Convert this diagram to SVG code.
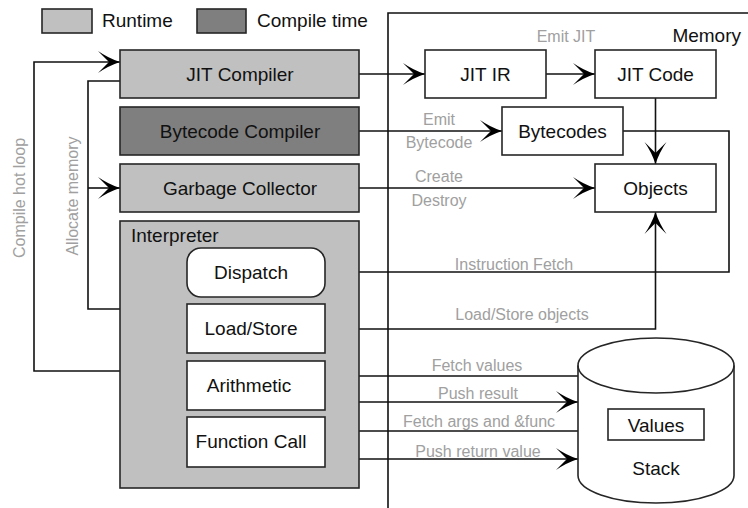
<svg xmlns="http://www.w3.org/2000/svg" width="748" height="508" viewBox="0 0 748 508">
  <style>
    .box { stroke: #262626; stroke-width: 1.6; }
    .rt { fill: #c0c0c0; }
    .ct { fill: #7f7f7f; }
    .wh { fill: #ffffff; }
    .t { font-family: "Liberation Sans", Arial, sans-serif; font-size: 19px; fill: #111; }
    .lbl { font-family: "Liberation Sans", Arial, sans-serif; font-size: 16px; fill: #a0a0a0; }
    .c { text-anchor: middle; }
    .wire { fill: none; stroke: #111; stroke-width: 1.6; }
    .arr { marker-end: url(#head); }
  </style>
  <defs>
    <marker id="head" markerWidth="24" markerHeight="24" viewBox="-23 -12 24 24" refX="0" refY="0" markerUnits="userSpaceOnUse" orient="auto">
      <path d="M0,0 Q-12,-4 -22,-11 Q-14,-3 -11,0 Q-14,3 -22,11 Q-12,4 0,0 Z" fill="#000"/>
    </marker>
  </defs>

  <rect width="748" height="508" fill="#ffffff"/>

  <!-- legend -->
  <g id="legend">
    <rect class="box rt" x="42" y="9" width="50" height="24"/>
    <text class="t" x="102" y="27">Runtime</text>
    <rect class="box ct" x="197" y="9" width="49" height="24"/>
    <text class="t" x="257" y="27">Compile time</text>
  </g>

  <!-- memory region -->
  <g id="memory">
    <path d="M388,508 V13 H748" fill="none" stroke="#111" stroke-width="1.6"/>
    <text class="t" x="741" y="42" text-anchor="end">Memory</text>
  </g>

  <!-- connectors -->
  <g id="connectors">
    <!-- left feedback loops -->
    <path class="wire arr" d="M120,371 H34 V62 H120"/>
    <path class="wire" d="M120,81 H88 V309 H120"/>
    <path class="wire arr" d="M88,188 H120"/>
    <!-- compilers and GC to memory -->
    <path class="wire arr" d="M359,74 H425"/>
    <path class="wire arr" d="M546,74 H595"/>
    <path class="wire arr" d="M359,131 H502"/>
    <path class="wire arr" d="M359,188 H595"/>
    <path class="wire arr" d="M655.5,98 V164"/>
    <!-- interpreter to memory -->
    <path class="wire" d="M359,272 H729 V131 H623"/>
    <path class="wire arr" d="M359,329 H655.5 V212"/>
    <!-- interpreter to stack -->
    <path class="wire" d="M359,376 H578"/>
    <path class="wire arr" d="M359,402 H578"/>
    <path class="wire" d="M359,431 H578"/>
    <path class="wire arr" d="M359,459 H578"/>
  </g>

  <!-- connector labels -->
  <g id="connector-labels">
    <text class="lbl c" x="566" y="42">Emit JIT</text>
    <text class="lbl c" x="439" y="125">Emit</text>
    <text class="lbl c" x="439" y="148">Bytecode</text>
    <text class="lbl c" x="439" y="182">Create</text>
    <text class="lbl c" x="439" y="206">Destroy</text>
    <text class="lbl c" x="514" y="270">Instruction Fetch</text>
    <text class="lbl c" x="522" y="320">Load/Store objects</text>
    <text class="lbl c" x="477" y="371">Fetch values</text>
    <text class="lbl c" x="478" y="399">Push result</text>
    <text class="lbl c" x="479" y="427">Fetch args and &amp;func</text>
    <text class="lbl c" x="478" y="457">Push return value</text>
    <text class="lbl c" transform="translate(25,198) rotate(-90)">Compile hot loop</text>
    <text class="lbl c" transform="translate(78,196) rotate(-90)">Allocate memory</text>
  </g>

  <g id="jit-compiler">
    <rect class="box rt" x="120" y="50" width="239" height="48"/>
    <text class="t c" x="240" y="81">JIT Compiler</text>
  </g>
  <g id="bytecode-compiler">
    <rect class="box ct" x="120" y="107" width="239" height="48"/>
    <text class="t c" x="240" y="138">Bytecode Compiler</text>
  </g>
  <g id="garbage-collector">
    <rect class="box rt" x="120" y="164" width="239" height="48"/>
    <text class="t c" x="240" y="195">Garbage Collector</text>
  </g>

  <g id="interpreter">
    <rect class="box rt" x="120" y="221" width="239" height="267"/>
    <text class="t" x="131" y="241.5">Interpreter</text>
  </g>
  <g id="dispatch">
    <rect class="box wh" x="187" y="248" width="138" height="49" rx="14"/>
    <text class="t c" x="251" y="279">Dispatch</text>
  </g>
  <g id="load-store">
    <rect class="box wh" x="187" y="304" width="138" height="49"/>
    <text class="t c" x="251" y="335">Load/Store</text>
  </g>
  <g id="arithmetic">
    <rect class="box wh" x="187" y="361" width="138" height="49"/>
    <text class="t c" x="249" y="392">Arithmetic</text>
  </g>
  <g id="function-call">
    <rect class="box wh" x="187" y="417" width="138" height="50"/>
    <text class="t c" x="251" y="448">Function Call</text>
  </g>

  <g id="jit-ir">
    <rect class="box wh" x="425" y="50" width="121" height="48"/>
    <text class="t c" x="485.5" y="81">JIT IR</text>
  </g>
  <g id="jit-code">
    <rect class="box wh" x="595" y="50" width="121" height="48"/>
    <text class="t c" x="655.5" y="81">JIT Code</text>
  </g>
  <g id="bytecodes">
    <rect class="box wh" x="502" y="107" width="121" height="48"/>
    <text class="t c" x="562.5" y="138">Bytecodes</text>
  </g>
  <g id="objects">
    <rect class="box wh" x="595" y="164" width="121" height="48"/>
    <text class="t c" x="655.5" y="195">Objects</text>
  </g>

  <g id="stack">
    <path class="box wh" d="M578,365.5 A78,27.5 0 0 1 734,365.5 V475.5 A78,27.5 0 0 1 578,475.5 Z"/>
    <path d="M578,365.5 A78,27.5 0 0 0 734,365.5" fill="none" stroke="#262626" stroke-width="1.6"/>
    <text class="t c" x="656" y="475">Stack</text>
  </g>
  <g id="values">
    <rect class="box wh" x="608" y="409" width="96" height="31"/>
    <text class="t c" x="656" y="431.5">Values</text>
  </g>
</svg>
